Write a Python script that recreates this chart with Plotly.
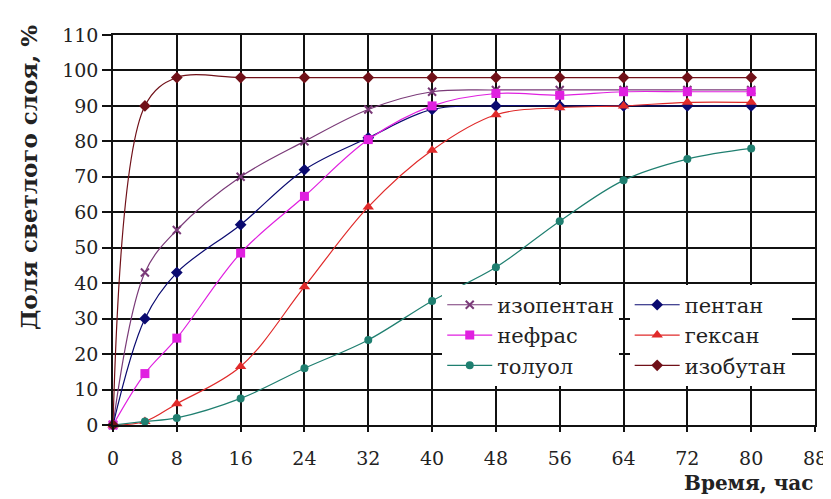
import plotly.graph_objects as go

hours = [0, 4, 8, 16, 24, 32, 40, 48, 56, 64, 72, 80]

isopentane = [0, 43, 55, 70, 80, 89, 94, 94.5, 94.5, 94.5, 94.5, 94.5]
pentane = [0, 30, 43, 56.5, 72, 81, 89, 90, 90, 90, 90, 90]
nefras = [0, 14.5, 24.5, 48.5, 64.5, 80.5, 90, 93.5, 93, 94, 94, 94]
hexane = [0, 1, 6, 16.5, 39, 61.5, 77.5, 87.5, 89.5, 90, 91, 91]
toluene = [0, 1, 2, 7.5, 16, 24, 35, 44.5, 57.5, 69, 75, 78]
isobutane = [0, 90, 98, 98, 98, 98, 98, 98, 98, 98, 98, 98]

names = ["изопентан", "пентан", "нефрас", "гексан", "толуол", "изобутан"]
x_ticks = [0, 8, 16, 24, 32, 40, 48, 56, 64, 72, 80, 88]
y_ticks = [0, 10, 20, 30, 40, 50, 60, 70, 80, 90, 100, 110]

series = [
    (names[0], isopentane, "#7a3a78", "x-thin-open", 8, "legend"),
    (names[1], pentane, "#0a0a70", "diamond", 9, "legend2"),
    (names[2], nefras, "#e020e0", "square", 9, "legend"),
    (names[3], hexane, "#e02a2a", "triangle-up", 10, "legend2"),
    (names[4], toluene, "#1f7f70", "circle", 8, "legend"),
    (names[5], isobutane, "#701018", "diamond", 9, "legend2"),
]

fig = go.Figure()
for name, vals, color, sym, size, leg in series:
    marker = dict(symbol=sym, size=size, color=color)
    if sym == "x-thin-open":
        marker["line"] = dict(color=color, width=2)
    fig.add_trace(go.Scatter(
        x=hours, y=vals, name=name, mode="lines+markers",
        line=dict(color=color, width=1.2, shape="spline", smoothing=1.0),
        marker=marker, legend=leg, cliponaxis=False,
    ))

font_family = "DejaVu Serif"

fig.update_layout(
    width=831, height=499,
    margin=dict(l=105, r=15, t=27, b=82),
    paper_bgcolor="white", plot_bgcolor="white",
    font=dict(family=font_family, size=19, color="#222"),
    legend=dict(x=0.469, y=0.36, xanchor="left", yanchor="top",
                bgcolor="white", borderwidth=0, itemwidth=45,
                font=dict(family=font_family, size=21, color="#222"),
                tracegroupgap=0),
    legend2=dict(x=0.736, y=0.36, xanchor="left", yanchor="top",
                 bgcolor="white", borderwidth=0, itemwidth=45,
                 font=dict(family=font_family, size=21, color="#222"),
                 tracegroupgap=0),
    annotations=[
        dict(text="<b>Доля светлого слоя, %</b>", textangle=-90,
             xref="paper", yref="paper", x=-0.12, y=0.635,
             xanchor="center", yanchor="middle", showarrow=False,
             font=dict(family=font_family, size=23, color="#222")),
        dict(text="<b>Время, час</b>",
             xref="paper", yref="paper", x=1.0, y=-0.148,
             xanchor="right", yanchor="middle", showarrow=False,
             font=dict(family=font_family, size=20, color="#222")),
    ],
)

fig.update_xaxes(
    range=[0, 88], tickvals=x_ticks, ticktext=[str(v) for v in x_ticks],
    showgrid=True, gridcolor="#111111", gridwidth=1.6,
    showline=True, linecolor="#111111", linewidth=1.6, mirror=True,
    ticks="outside", ticklen=5, tickcolor="#111111", tickwidth=1.6,
    ticklabelstandoff=10, zeroline=False,
)
fig.update_yaxes(
    range=[0, 110], tickvals=y_ticks,
    ticktext=[str(v) for v in y_ticks],
    showgrid=True, gridcolor="#111111", gridwidth=1.6,
    showline=True, linecolor="#111111", linewidth=1.6, mirror=True,
    ticks="outside", ticklen=9, tickcolor="#111111", tickwidth=1.6,
    zeroline=False,
)

fig.write_html("out.html")
